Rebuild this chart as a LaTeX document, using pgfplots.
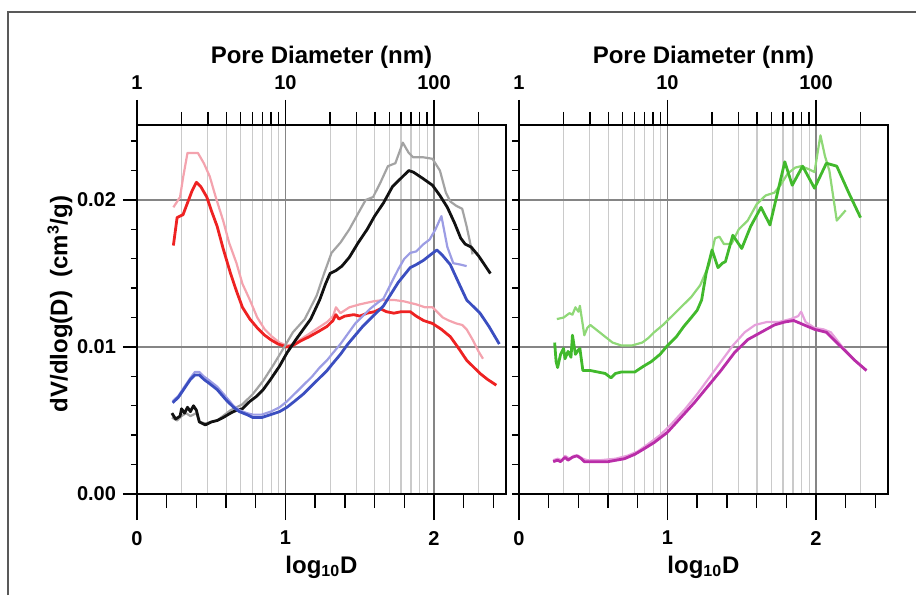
\documentclass[border=0pt]{standalone}
\usepackage{pgfplots}
\pgfplotsset{compat=1.18}
\usepackage{fontspec}
\setmainfont{Liberation Sans}
\definecolor{cred}{HTML}{EE2222}
\definecolor{cpink}{HTML}{F4A3AE}
\definecolor{cgray}{HTML}{A3A3A3}
\definecolor{cblack}{HTML}{111111}
\definecolor{cblue}{HTML}{3B4EC0}
\definecolor{clblue}{HTML}{9C9DE4}
\definecolor{cgreen}{HTML}{41B92C}
\definecolor{clgreen}{HTML}{8FD877}
\definecolor{cmag}{HTML}{B92DA8}
\definecolor{clmag}{HTML}{E6A0DC}
\definecolor{gridmaj}{HTML}{858585}
\definecolor{gridmin}{HTML}{CACACA}
\pgfplotsset{
 panel/.style={scale only axis, width=184.5pt, height=184.5pt, ymin=0, ymax=0.0251, anchor=south west,
   scaled y ticks=false, scaled x ticks=false,
   font=\bfseries\fontsize{10}{12}\selectfont, /pgf/number format/assume math mode=true,
   axis line style={line width=0.7pt, black}, tick style={line width=0.7pt, black}, tick align=outside},
 logtop/.style={panel, xmin=1, xmax=305.5, axis x line*=top, axis y line=none,
   xtick={1,10,100}, xticklabels={1,10,100},
   minor xtick={2,3,4,5,6,7,8,9,20,30,40,50,60,70,80,90,200},
   xmajorgrids, xminorgrids,
   major x grid style={color=gridmaj, line width=0.6pt},
   minor x grid style={color=gridmin, line width=0.6pt},
   major tick length=12.5pt, minor tick length=6.5pt,
   xlabel={Pore Diameter (nm)},
   xticklabel style={yshift=1.5pt},
   every axis x label/.style={at={([yshift=34pt]axis description cs:0.5,1)}, anchor=center, font=\bfseries\fontsize{12}{14}\selectfont}},
 yaxis/.style={panel, xmin=0, xmax=2.485, axis x line=none, axis y line*=left,
   ytick={0,0.01,0.02}, minor ytick={0.002,0.004,0.006,0.008,0.012,0.014,0.016,0.018,0.022,0.024},
   ymajorgrids, major y grid style={color=gridmaj, line width=0.8pt}},
 databox/.style={panel, xmin=0, xmax=2.485, xtick pos=left, ytick=\empty,
   xtick={0,1,2}, xticklabels={0,1,2},
   minor xtick={0.2,0.4,0.6,0.8,1.2,1.4,1.6,1.8,2.2,2.4},
   major tick length=13pt, minor tick length=7pt,
   xticklabel style={yshift=-2pt},
   xlabel={log\textsubscript{10}D},
   every axis x label/.style={at={([yshift=-36.5pt]axis description cs:0.5,0)}, anchor=center, font=\bfseries\fontsize{12}{14}\selectfont},
   every axis plot/.append style={line join=round}},
 dk/.style={line width=1.4pt},
 lt/.style={line width=1.1pt}
}
\begin{document}
\begin{tikzpicture}
\useasboundingbox (0,0) rectangle (458pt,297.5pt);
\draw[color=gray!70!black, line width=0.6pt] (4pt,0) -- (4pt,291.5pt) -- (458pt,291.5pt);

% ---------------- left panel ----------------
\begin{semilogxaxis}[logtop, at={(68.5pt,50.5pt)}]
\end{semilogxaxis}
\begin{axis}[yaxis, at={(68.5pt,50.5pt)},
  yticklabels={0.00,0.01,0.02},
  major tick length=7pt, minor tick length=3pt,
  ylabel={dV/dlog(D)\ \ (cm\textsuperscript{3}/g)},
  every axis y label/.style={at={([xshift=-38.5pt]axis description cs:0,0.515)}, rotate=90, anchor=center, font=\bfseries\fontsize{12}{14}\selectfont}]
\end{axis}
\begin{axis}[databox, at={(68.5pt,50.5pt)}]
\addplot[cpink, lt] coordinates {(0.245,0.0195)(0.29,0.0202)(0.31,0.0215)(0.34,0.0232)(0.37,0.0232)(0.41,0.0232)(0.45,0.0225)(0.49,0.0216)(0.53,0.0202)(0.58,0.0186)(0.62,0.0171)(0.67,0.0157)(0.71,0.0143)(0.76,0.0132)(0.81,0.0120)(0.86,0.0112)(0.91,0.0107)(0.96,0.0103)(1.01,0.0101)(1.06,0.0102)(1.10,0.0105)(1.16,0.0109)(1.22,0.0113)(1.28,0.0117)(1.32,0.0121)(1.34,0.0127)(1.37,0.0123)(1.43,0.0127)(1.50,0.0129)(1.59,0.0131)(1.66,0.0132)(1.73,0.0132)(1.80,0.0131)(1.88,0.0129)(1.94,0.0127)(1.99,0.0127)(2.03,0.0123)(2.06,0.0120)(2.10,0.0118)(2.15,0.0116)(2.19,0.0115)(2.22,0.0112)(2.26,0.0105)(2.30,0.0097)(2.33,0.0092)};
\addplot[cred, dk] coordinates {(0.245,0.0169)(0.27,0.0188)(0.31,0.0190)(0.34,0.0198)(0.37,0.0206)(0.40,0.0212)(0.43,0.0209)(0.47,0.0202)(0.50,0.0193)(0.54,0.0182)(0.58,0.0167)(0.63,0.0150)(0.67,0.0138)(0.71,0.0127)(0.76,0.0119)(0.81,0.0113)(0.86,0.0108)(0.90,0.0105)(0.95,0.0102)(1.01,0.0100)(1.05,0.0101)(1.10,0.0104)(1.16,0.0107)(1.23,0.0111)(1.28,0.0114)(1.32,0.0118)(1.34,0.0122)(1.36,0.0119)(1.40,0.0121)(1.46,0.0122)(1.50,0.0121)(1.55,0.0123)(1.60,0.0124)(1.64,0.0126)(1.68,0.0124)(1.73,0.0123)(1.78,0.0124)(1.84,0.0124)(1.88,0.0121)(1.93,0.0118)(1.99,0.0116)(2.05,0.0112)(2.11,0.0107)(2.16,0.0100)(2.22,0.0091)(2.27,0.0086)(2.31,0.0082)(2.36,0.0078)(2.42,0.0074)};
\addplot[cgray, lt] coordinates {(0.235,0.0052)(0.27,0.0050)(0.30,0.0053)(0.33,0.0055)(0.36,0.0053)(0.40,0.0055)(0.42,0.0049)(0.46,0.0048)(0.54,0.0050)(0.63,0.0057)(0.71,0.0061)(0.78,0.0068)(0.85,0.0077)(0.92,0.0088)(0.98,0.0098)(1.05,0.0110)(1.13,0.0119)(1.17,0.0127)(1.21,0.0135)(1.26,0.0150)(1.31,0.0164)(1.37,0.0171)(1.43,0.0180)(1.49,0.0191)(1.54,0.0200)(1.59,0.0202)(1.64,0.0212)(1.69,0.0223)(1.74,0.0225)(1.79,0.0239)(1.83,0.0232)(1.86,0.0229)(1.93,0.0229)(1.99,0.0228)(2.04,0.0220)(2.08,0.0205)(2.11,0.0199)(2.15,0.0196)(2.19,0.0194)(2.22,0.0182)(2.26,0.0163)};
\addplot[cblack, dk] coordinates {(0.235,0.0055)(0.26,0.0051)(0.29,0.0053)(0.30,0.0058)(0.32,0.0055)(0.34,0.0059)(0.36,0.0056)(0.38,0.0060)(0.40,0.0057)(0.42,0.0049)(0.44,0.0048)(0.46,0.0047)(0.50,0.0049)(0.54,0.0050)(0.58,0.0052)(0.63,0.0055)(0.67,0.0057)(0.71,0.0058)(0.76,0.0063)(0.80,0.0066)(0.85,0.0071)(0.90,0.0078)(0.96,0.0087)(1.01,0.0096)(1.07,0.0105)(1.12,0.0112)(1.17,0.0119)(1.23,0.0132)(1.27,0.0143)(1.30,0.0150)(1.34,0.0152)(1.38,0.0155)(1.43,0.0161)(1.49,0.0171)(1.55,0.0180)(1.60,0.0189)(1.66,0.0198)(1.72,0.0209)(1.78,0.0215)(1.83,0.0220)(1.86,0.0219)(1.92,0.0215)(1.99,0.0210)(2.04,0.0203)(2.09,0.0195)(2.14,0.0184)(2.18,0.0174)(2.21,0.0170)(2.25,0.0168)(2.30,0.0162)(2.34,0.0156)(2.38,0.0150)};
\addplot[clblue, lt] coordinates {(0.24,0.0063)(0.28,0.0067)(0.32,0.0073)(0.36,0.0079)(0.39,0.0083)(0.42,0.0083)(0.45,0.0080)(0.49,0.0077)(0.54,0.0073)(0.60,0.0066)(0.65,0.0060)(0.69,0.0057)(0.74,0.0055)(0.78,0.0054)(0.84,0.0054)(0.90,0.0056)(0.96,0.0059)(1.01,0.0063)(1.06,0.0068)(1.12,0.0074)(1.18,0.0080)(1.23,0.0086)(1.28,0.0091)(1.32,0.0096)(1.37,0.0102)(1.42,0.0109)(1.47,0.0116)(1.52,0.0121)(1.57,0.0126)(1.62,0.0130)(1.66,0.0133)(1.71,0.0143)(1.76,0.0153)(1.80,0.0160)(1.84,0.0164)(1.88,0.0165)(1.93,0.0170)(1.97,0.0173)(2.01,0.0180)(2.05,0.0189)(2.09,0.0168)(2.13,0.0157)(2.18,0.0156)(2.22,0.0155)};
\addplot[cblue, dk] coordinates {(0.24,0.0062)(0.28,0.0066)(0.32,0.0072)(0.36,0.0078)(0.39,0.0081)(0.42,0.0081)(0.45,0.0078)(0.49,0.0075)(0.54,0.0071)(0.60,0.0064)(0.65,0.0059)(0.69,0.0056)(0.74,0.0054)(0.78,0.0052)(0.84,0.0052)(0.90,0.0054)(0.96,0.0056)(1.01,0.0059)(1.06,0.0063)(1.12,0.0068)(1.18,0.0074)(1.23,0.0079)(1.28,0.0084)(1.32,0.0089)(1.37,0.0095)(1.42,0.0102)(1.47,0.0108)(1.52,0.0114)(1.57,0.0119)(1.62,0.0124)(1.66,0.0128)(1.71,0.0136)(1.76,0.0144)(1.80,0.0149)(1.84,0.0154)(1.88,0.0156)(1.93,0.0159)(1.98,0.0163)(2.02,0.0166)(2.06,0.0162)(2.11,0.0156)(2.16,0.0145)(2.22,0.0132)(2.27,0.0127)(2.31,0.0123)(2.37,0.0114)(2.44,0.0102)};
\end{axis}

% ---------------- right panel ----------------
\begin{semilogxaxis}[logtop, at={(259.5pt,50.5pt)}]
\end{semilogxaxis}
\begin{axis}[yaxis, at={(259.5pt,50.5pt)}, yticklabels={},
  major tick length=3.5pt, minor tick length=3.5pt]
\end{axis}
\begin{axis}[databox, at={(259.5pt,50.5pt)}]
\addplot[clgreen, lt] coordinates {(0.255,0.0119)(0.30,0.0120)(0.34,0.0123)(0.36,0.0122)(0.38,0.0127)(0.40,0.0124)(0.41,0.0128)(0.44,0.0108)(0.46,0.0113)(0.48,0.0115)(0.53,0.0111)(0.58,0.0107)(0.63,0.0103)(0.69,0.0101)(0.76,0.0101)(0.83,0.0103)(0.87,0.0106)(0.91,0.0110)(0.97,0.0115)(1.03,0.0121)(1.10,0.0128)(1.16,0.0134)(1.22,0.0142)(1.28,0.0156)(1.32,0.0174)(1.35,0.0175)(1.38,0.0170)(1.43,0.0170)(1.48,0.0180)(1.54,0.0186)(1.60,0.0197)(1.66,0.0203)(1.72,0.0205)(1.76,0.0210)(1.81,0.0218)(1.86,0.0222)(1.90,0.0223)(1.95,0.0221)(1.99,0.0219)(2.03,0.0244)(2.06,0.0230)(2.09,0.0220)(2.14,0.0186)(2.20,0.0193)};
\addplot[cgreen, dk] coordinates {(0.24,0.0103)(0.25,0.0090)(0.26,0.0086)(0.28,0.0095)(0.30,0.0099)(0.31,0.0092)(0.33,0.0097)(0.35,0.0093)(0.36,0.0108)(0.38,0.0095)(0.40,0.0098)(0.41,0.0099)(0.43,0.0084)(0.48,0.0084)(0.53,0.0083)(0.58,0.0082)(0.62,0.0079)(0.65,0.0082)(0.69,0.0083)(0.74,0.0083)(0.78,0.0083)(0.84,0.0087)(0.89,0.0090)(0.95,0.0095)(1.00,0.0101)(1.06,0.0107)(1.11,0.0114)(1.16,0.0120)(1.20,0.0125)(1.23,0.0132)(1.26,0.0150)(1.30,0.0166)(1.34,0.0154)(1.37,0.0157)(1.39,0.0158)(1.44,0.0176)(1.50,0.0167)(1.56,0.0182)(1.63,0.0195)(1.69,0.0183)(1.79,0.0226)(1.84,0.0210)(1.91,0.0223)(1.99,0.0208)(2.07,0.0225)(2.14,0.0223)(2.22,0.0205)(2.30,0.0188)};
\addplot[clmag, lt] coordinates {(0.23,0.0023)(0.26,0.0024)(0.29,0.0023)(0.31,0.0026)(0.34,0.0024)(0.37,0.0026)(0.40,0.0026)(0.43,0.0024)(0.46,0.0023)(0.55,0.0023)(0.65,0.0024)(0.73,0.0026)(0.80,0.0029)(0.87,0.0034)(0.95,0.0040)(1.03,0.0048)(1.12,0.0058)(1.20,0.0068)(1.28,0.0079)(1.36,0.0090)(1.44,0.0101)(1.52,0.0110)(1.59,0.0115)(1.67,0.0117)(1.75,0.0117)(1.83,0.0119)(1.88,0.0121)(1.90,0.0124)(1.93,0.0117)(1.99,0.0113)(2.05,0.0112)(2.10,0.0110)(2.17,0.0101)(2.26,0.0091)(2.34,0.0084)};
\addplot[cmag, dk] coordinates {(0.23,0.0022)(0.26,0.0023)(0.28,0.0022)(0.31,0.0025)(0.33,0.0023)(0.36,0.0025)(0.39,0.0026)(0.42,0.0024)(0.44,0.0022)(0.50,0.0022)(0.60,0.0022)(0.71,0.0024)(0.78,0.0027)(0.83,0.0030)(0.91,0.0035)(1.00,0.0042)(1.09,0.0052)(1.18,0.0062)(1.27,0.0073)(1.36,0.0084)(1.45,0.0096)(1.54,0.0105)(1.63,0.0110)(1.72,0.0115)(1.79,0.0117)(1.85,0.0118)(1.92,0.0115)(1.99,0.0112)(2.07,0.0110)(2.17,0.0100)(2.26,0.0091)(2.34,0.0084)};
\end{axis}
\end{tikzpicture}
\end{document}
